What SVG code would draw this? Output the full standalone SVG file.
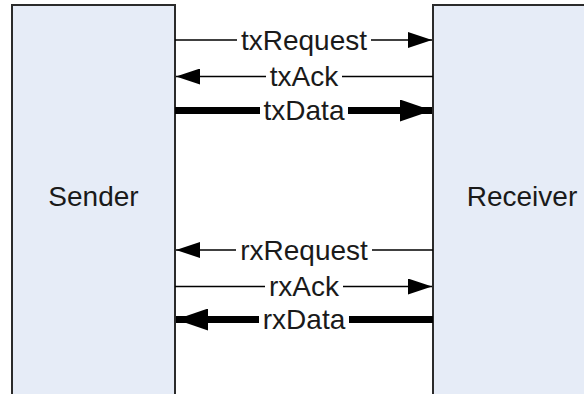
<svg xmlns="http://www.w3.org/2000/svg" width="584" height="394" viewBox="0 0 584 394">
  <defs>
    <marker id="headThin" viewBox="0 0 24 16" refX="24" refY="8" markerWidth="24" markerHeight="16" markerUnits="userSpaceOnUse" orient="auto">
      <path d="M0,0 L24,8 L0,16 Z" fill="#000"/>
    </marker>
    <marker id="headThick" viewBox="0 0 32 22" refX="32" refY="11" markerWidth="32" markerHeight="22" markerUnits="userSpaceOnUse" orient="auto">
      <path d="M0,0 L32,11 L0,22 Z" fill="#000"/>
    </marker>
  </defs>
  <style>
    .block { fill: #e6ecf7; stroke: #2b2b2b; stroke-width: 2; }
    .name { font-family: "Liberation Sans", Arial, sans-serif; font-size: 28px; fill: #1a1a1a; text-anchor: middle; }
    .thin { stroke: #000; stroke-width: 1.5; fill: none; }
    .thick { stroke: #000; stroke-width: 7; fill: none; }
    .thin.fwd, .thin.back { marker-end: url(#headThin); }
    .thick.fwd, .thick.back { marker-end: url(#headThick); }
    .gap { fill: #fff; }
    .label { font-family: "Liberation Sans", Arial, sans-serif; font-size: 28px; fill: #1a1a1a; text-anchor: middle; }
  </style>
  <rect width="584" height="394" fill="#fff"/>

  <g id="sender">
    <rect class="block" x="12" y="5" width="163" height="400"/>
    <text class="name" x="93.5" y="206">Sender</text>
  </g>

  <g id="receiver">
    <rect class="block" x="433" y="5" width="170" height="400"/>
    <text class="name" x="522" y="206">Receiver</text>
  </g>

  <g id="connectors">
    <!-- each label sits on a white patch that breaks its line -->
    <line class="thin fwd" x1="175" y1="40" x2="432" y2="40"/>
    <rect class="gap" x="237" y="28" width="134" height="24"/>
    <text class="label" x="304" y="49.5">txRequest</text>

    <line class="thin back" x1="433" y1="76.5" x2="176" y2="76.5"/>
    <rect class="gap" x="266" y="64.5" width="76" height="24"/>
    <text class="label" x="304" y="86">txAck</text>

    <line class="thick fwd" x1="175" y1="110.5" x2="432" y2="110.5"/>
    <rect class="gap" x="260" y="98.5" width="88" height="24"/>
    <text class="label" x="304" y="120">txData</text>

    <line class="thin back" x1="433" y1="250" x2="176" y2="250"/>
    <rect class="gap" x="236" y="238" width="136" height="24"/>
    <text class="label" x="304" y="259.5">rxRequest</text>

    <line class="thin fwd" x1="175" y1="286.5" x2="432" y2="286.5"/>
    <rect class="gap" x="265" y="274.5" width="78" height="24"/>
    <text class="label" x="304" y="296">rxAck</text>

    <line class="thick back" x1="433" y1="319.5" x2="176" y2="319.5"/>
    <rect class="gap" x="259" y="307.5" width="90" height="24"/>
    <text class="label" x="304" y="329">rxData</text>
  </g>
</svg>
